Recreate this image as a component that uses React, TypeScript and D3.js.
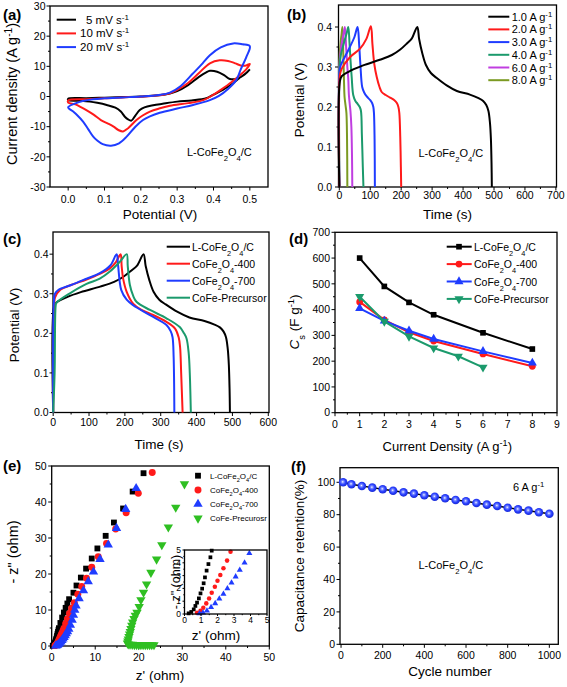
import React from "react";
import * as d3 from "d3";

type Pt = [number, number];

// ---------------- (a) CV data ----------------
const cvLabels = ["5 mV s^{-1}", "10 mV s^{-1}", "20 mV s^{-1}"];
const cv5: Pt[] = [[0,-0.7],[0.05,-0.55],[0.1,-0.4],[0.15,-0.2],[0.2,0.0],[0.25,0.4],[0.28,1.0],[0.3,1.8],[0.33,3.8],[0.36,6.5],[0.38,8.0],[0.39,8.5],[0.41,8.2],[0.43,7.0],[0.445,5.8],[0.465,5.9],[0.485,7.2],[0.5,9.0],[0.49,7.8],[0.47,6.0],[0.454,4.4],[0.43,2.5],[0.4,0.6],[0.38,-0.6],[0.34,-1.3],[0.3,-1.7],[0.26,-2.4],[0.234,-2.9],[0.21,-3.6],[0.197,-4.5],[0.185,-6.3],[0.174,-8.0],[0.165,-7.6],[0.156,-6.7],[0.145,-5.0],[0.13,-3.7],[0.106,-2.8],[0.08,-2.1],[0.06,-1.7],[0.03,-1.4],[0,-1.2]];
const cv10: Pt[] = [[0,-1.3],[0.05,-0.9],[0.1,-0.6],[0.15,-0.3],[0.2,-0.05],[0.25,0.4],[0.28,1.1],[0.3,2.2],[0.33,4.5],[0.36,7.8],[0.39,11.0],[0.417,12.0],[0.44,11.8],[0.46,11.0],[0.475,10.3],[0.49,10.3],[0.5,10.8],[0.49,9.0],[0.47,6.8],[0.45,4.8],[0.42,2.2],[0.4,0.6],[0.372,-1.2],[0.33,-2.2],[0.28,-3.1],[0.25,-4.0],[0.225,-5.0],[0.205,-6.3],[0.188,-7.8],[0.165,-10.5],[0.151,-11.6],[0.138,-11.1],[0.125,-10.0],[0.11,-9.0],[0.09,-7.8],[0.07,-6.0],[0.05,-4.5],[0.035,-3.5],[0.02,-2.6],[0,-2.0]];
const cv20: Pt[] = [[0,-3.6],[0.02,-2.3],[0.04,-1.5],[0.069,-0.9],[0.1,-0.6],[0.15,-0.3],[0.2,0],[0.25,0.5],[0.28,1.3],[0.31,3.5],[0.344,7.7],[0.37,11],[0.39,13.7],[0.42,16.3],[0.454,17.6],[0.48,17.3],[0.5,16.7],[0.49,13],[0.475,9],[0.463,5.5],[0.44,2.5],[0.415,0.2],[0.39,-1.2],[0.344,-2.8],[0.3,-4.0],[0.252,-5.4],[0.225,-6.6],[0.206,-7.8],[0.185,-10.0],[0.161,-13.3],[0.14,-15.5],[0.118,-16.3],[0.095,-15.8],[0.08,-14.6],[0.069,-13.3],[0.055,-10.8],[0.041,-8.3],[0.025,-6.2],[0.014,-5.0]];

// ---------------- (b) GCD at different current densities ----------------
const gcdLabels = ["1.0 A g^{-1}", "2.0 A g^{-1}", "3.0 A g^{-1}", "4.0 A g^{-1}", "6.0 A g^{-1}", "8.0 A g^{-1}"];
const gcd1: Pt[] = [[0,0],[2,0.265],[8,0.277],[40,0.292],[77,0.304],[131,0.318],[170,0.33],[196,0.343],[220,0.36],[234,0.371],[252,0.4],[258,0.37],[268,0.335],[280,0.305],[296,0.285],[314,0.273],[347,0.254],[380,0.24],[422,0.231],[450,0.222],[465,0.215],[475,0.205],[482,0.19],[487,0.16],[490,0.12],[492,0.06],[493,0]];
const gcd2: Pt[] = [[0,0],[2,0.28],[8,0.296],[35,0.325],[67,0.346],[88,0.371],[102,0.402],[107,0.358],[113,0.308],[121,0.275],[130,0.25],[137,0.2375],[150,0.23],[164,0.2235],[178,0.217],[186,0.21],[191,0.2],[194,0.185],[197,0.125],[199,0.05],[200,0]];
const gcd3: Pt[] = [[0,0],[1,0.29],[5,0.305],[29,0.342],[49,0.375],[59,0.4],[64,0.358],[68,0.308],[74,0.25],[80,0.237],[88,0.227],[100,0.217],[106,0.21],[110,0.2],[112,0.185],[114,0.12],[115,0]];
const gcd4: Pt[] = [[0,0],[1,0.3],[5,0.33],[15,0.36],[24,0.385],[29,0.4],[33,0.36],[36,0.32],[40,0.275],[45,0.23],[52,0.215],[59,0.208],[66,0.2],[70,0.19],[73,0.13],[76,0.05],[78,0]];
const gcd6: Pt[] = [[0,0],[1,0.31],[6,0.35],[13,0.38],[18,0.4],[22,0.35],[26,0.3],[29,0.27],[31,0.23],[34,0.205],[36,0.19],[39,0.15],[41,0.08],[42,0]];
const gcd8: Pt[] = [[0,0],[0.5,0.32],[4,0.36],[7,0.38],[10,0.4],[13,0.33],[15,0.27],[17,0.225],[20,0.205],[23,0.185],[25,0.12],[26,0]];

// ---------------- (c) GCD of different samples ----------------
const sampleLabels = ["L-CoFe_{2}O_{4}/C", "CoFe_{2}O_{4}-400", "CoFe_{2}O_{4}-700", "CoFe-Precursor"];
const gcdS400: Pt[] = [[0,0],[3,0.27],[5,0.29],[20,0.31],[50,0.322],[93,0.336],[130,0.35],[158,0.364],[175,0.38],[188,0.4],[191,0.37],[195,0.339],[205,0.305],[223,0.275],[245,0.26],[270,0.25],[316,0.229],[340,0.212],[350,0.19],[354,0.165],[357,0.1],[361,0]];
const gcdS700: Pt[] = [[0,0],[2,0.28],[5,0.3],[15,0.31],[50,0.322],[93,0.338],[130,0.352],[160,0.372],[177,0.4],[181,0.372],[190,0.309],[205,0.285],[223,0.271],[270,0.246],[316,0.221],[328,0.205],[333,0.19],[336,0.14],[338,0]];
const gcdSPre: Pt[] = [[0,0],[4,0.1],[7,0.27],[9,0.277],[50,0.303],[93,0.325],[130,0.338],[158,0.356],[186,0.381],[205,0.4],[208,0.37],[214,0.322],[223,0.295],[233,0.279],[270,0.259],[316,0.238],[353,0.216],[365,0.2],[372,0.187],[378,0.15],[381,0.1],[384,0]];

// ---------------- (d) specific capacitance ----------------
const cdX = [1, 2, 3, 4, 6, 8];
const cdL = [600, 490, 428, 380, 310, 247];
const cd400 = [430, 360, 312, 278, 228, 180];
const cd700 = [405, 356, 318, 286, 238, 193];
const cdPreX = [1, 2, 3, 4, 5, 6];
const cdPre = [450, 354, 296, 251, 219, 176];

// ---------------- (e) Nyquist ----------------
const eisLabels = ["L-CoFe_{2}O_{4}/C", "CoFe_{2}O_{4}-400", "CoFe_{2}O_{4}-700", "CoFe-Precurosr"];
const eisL: Pt[] = [[0.25,0.05],[0.41,0.16],[0.56,0.36],[0.66,0.63],[0.76,0.89],[0.87,1.22],[0.97,1.61],[1.07,1.98],[1.16,2.4],[1.24,2.86],[1.34,3.39],[1.45,3.9],[1.57,4.43],[1.65,4.95],[2.0,6.4],[2.4,7.9],[2.8,9.3],[3.2,10.6],[3.6,11.8],[4.0,13.0],[5.0,14.8],[5.7,16.8],[6.7,19.0],[7.9,21.5],[9.2,24.3],[10.5,27.1],[12.4,30.6],[14.3,34.3],[16.4,38.2],[18.6,42.9],[21.1,48.0]];
const eis400: Pt[] = [[0.76,0.1],[0.97,0.26],[1.14,0.49],[1.32,0.83],[1.49,1.22],[1.65,1.66],[1.84,2.13],[2.0,2.6],[2.17,3.05],[2.36,3.57],[2.58,4.17],[2.79,4.87],[3.2,6.2],[3.6,7.5],[4.1,9.0],[4.6,10.5],[5.2,12.0],[6.0,14.4],[6.9,16.5],[8.0,18.8],[9.2,21.9],[10.7,24.8],[12.6,28.5],[14.7,32.5],[17.1,37.0],[19.9,42.4],[23.1,48.2]];
const eis700: Pt[] = [[0.91,0.03],[1.12,0.1],[1.36,0.26],[1.61,0.52],[1.86,0.83],[2.11,1.2],[2.36,1.56],[2.6,2.0],[2.85,2.45],[3.1,2.92],[3.35,3.44],[3.64,4.0],[3.93,4.74],[4.3,5.8],[4.7,7.2],[5.0,8.6],[5.3,10.0],[5.6,11.2],[6.3,13.2],[7.3,15.4],[8.4,17.9],[9.6,20.6],[11.1,24.1],[13.0,28.1],[14.9,32.7],[17.0,38.0],[19.4,43.8]];
const eisPre: Pt[] = [[23.5,0.3],[23.0,0.3],[22.5,0.3],[22.0,0.3],[21.5,0.3],[21.0,0.3],[20.5,0.3],[20.0,0.3],[19.5,0.35],[19.0,0.35],[18.5,0.4],[18.0,0.45],[17.6,0.5],[17.4,0.8],[17.5,1.3],[17.6,1.9],[17.75,2.6],[17.9,3.3],[18.05,4.0],[18.2,4.8],[18.4,5.7],[18.6,6.6],[18.9,7.6],[19.2,8.5],[19.6,9.3],[20.1,10.9],[20.5,12.8],[21.1,14.9],[21.8,17.2],[22.8,20.4],[24.1,24.1],[25.3,28.1],[26.8,33.0],[28.5,38.5],[30.5,45.0]];

// ---------------- (f) cycling ----------------
const cycX = [10,50,100,150,200,250,300,350,400,450,500,550,600,650,700,750,800,850,900,950,1000];
const cycRet = [100,98.8,97.7,96.7,95.7,94.8,93.8,93.0,92.0,91.1,90.1,89.1,88.3,87.2,86.2,85.4,84.3,83.3,82.5,81.5,80.6];

// ---------------- tick arrays ----------------
const aXT = [0,0.1,0.2,0.3,0.4,0.5], aXM = [0.05,0.15,0.25,0.35,0.45];
const aYT = [-30,-20,-10,0,10,20,30], aYM = [-25,-15,-5,5,15,25];
const bXT = [0,100,200,300,400,500,600,700], bXM = [50,150,250,350,450,550,650];
const vYT = [0,0.1,0.2,0.3,0.4], vYM = [0.05,0.15,0.25,0.35];
const cXT = [0,100,200,300,400,500,600], cXM = [50,150,250,350,450,550];
const dXT = [0,1,2,3,4,5,6,7,8,9], dXM = [0.5,1.5,2.5,3.5,4.5,5.5,6.5,7.5,8.5];
const dYT = [0,100,200,300,400,500,600,700], dYM = [50,150,250,350,450,550,650];
const eT = [0,10,20,30,40,50], eM = [5,15,25,35,45];
const eiT = [0,1,2,3,4,5], eiM = [0.5,1.5,2.5,3.5,4.5];
const fXT = [0,200,400,600,800,1000], fXM = [100,300,500,700,900];
const fYT = [0,20,40,60,80,100], fYM = [10,30,50,70,90];

const FONT = "'Liberation Sans', Arial, Helvetica, sans-serif";
const BLACK = "#000000", RED = "#ff1a1a", BLUE = "#1f3cff", TEAL = "#1b9a6c", PURPLE = "#c03ee0", OLIVE = "#7b9a22", GREEN = "#2fbf22";

type Box = { l: number; r: number; t: number; b: number };

function rich(s: string) {
  const out: any[] = [];
  const re = /([_^])\{([^}]*)\}/g;
  let i = 0, k = 0, m: any;
  while ((m = re.exec(s))) {
    if (m.index > i) out.push(<tspan key={k++}>{s.slice(i, m.index)}</tspan>);
    out.push(<tspan key={k++} baselineShift={m[1] === "_" ? "sub" : "super"} fontSize="70%">{m[2]}</tspan>);
    i = re.lastIndex;
  }
  if (i < s.length) out.push(<tspan key={k++}>{s.slice(i)}</tspan>);
  return out;
}

function Axes(p: { box: Box; xs: any; ys: any; xT: number[]; xM: number[]; yT: number[]; yM: number[]; fx: (v: number) => string; fy: (v: number) => string; fs?: number; xOff: number; yOff: number; tick?: number; minor?: number }) {
  const { box, xs, ys, xT, xM, yT, yM, fx, fy, xOff, yOff } = p;
  const fs = p.fs ?? 10.5, tk = p.tick ?? 3.5, mn = p.minor ?? 2;
  return (
    <g>
      <rect x={box.l} y={box.t} width={box.r - box.l} height={box.b - box.t} fill="none" stroke="#000" strokeWidth={1.3} />
      {xT.map((v) => <line key={"xt" + v} x1={xs(v)} x2={xs(v)} y1={box.b} y2={box.b + tk} stroke="#000" strokeWidth={1} />)}
      {xM.map((v) => <line key={"xm" + v} x1={xs(v)} x2={xs(v)} y1={box.b} y2={box.b + mn} stroke="#000" strokeWidth={1} />)}
      {yT.map((v) => <line key={"yt" + v} x1={box.l - tk} x2={box.l} y1={ys(v)} y2={ys(v)} stroke="#000" strokeWidth={1} />)}
      {yM.map((v) => <line key={"ym" + v} x1={box.l - mn} x2={box.l} y1={ys(v)} y2={ys(v)} stroke="#000" strokeWidth={1} />)}
      {xT.map((v) => <text key={"xl" + v} x={xs(v)} y={box.b + xOff} fontSize={fs} textAnchor="middle">{fx(v)}</text>)}
      {yT.map((v) => <text key={"yl" + v} x={box.l - yOff} y={ys(v)} dy="0.36em" fontSize={fs} textAnchor="end">{fy(v)}</text>)}
    </g>
  );
}

const cr = d3.curveCatmullRom.alpha(0.5);
const crc = d3.curveCatmullRomClosed.alpha(0.5);
function path(xs: any, ys: any, pts: Pt[], curve: any = cr) {
  return d3.line<Pt>().x((d) => xs(d[0])).y((d) => ys(d[1])).curve(curve)(pts) || "";
}
const f1 = d3.format(".1f");
const f0 = (v: number) => String(v);

const symSq = (s: number) => d3.symbol().type(d3.symbolSquare).size(s)() || "";
const symCi = (s: number) => d3.symbol().type(d3.symbolCircle).size(s)() || "";
const symTr = (s: number) => d3.symbol().type(d3.symbolTriangle).size(s)() || "";

function Marker({ kind, x, y, size, color }: { kind: number; x: number; y: number; size: number; color: string }) {
  if (kind === 0) return <path d={symSq(size)} transform={`translate(${x},${y})`} fill={color} />;
  if (kind === 1) return <path d={symCi(size)} transform={`translate(${x},${y})`} fill={color} />;
  if (kind === 2) return <path d={symTr(size)} transform={`translate(${x},${y})`} fill={color} />;
  return <path d={symTr(size)} transform={`translate(${x},${y}) rotate(180)`} fill={color} />;
}

export default function App() {
  // boxes
  const A: Box = { l: 50, r: 268, t: 6, b: 187 };
  const B: Box = { l: 338.5, r: 556.5, t: 5, b: 187 };
  const C: Box = { l: 53, r: 269, t: 232, b: 412.5 };
  const D: Box = { l: 335, r: 557, t: 232.3, b: 412.7 };
  const E: Box = { l: 51.7, r: 269.3, t: 466, b: 646 };
  const EI: Box = { l: 184.5, r: 267, t: 550, b: 614 };
  const F: Box = { l: 340, r: 558.3, t: 467.7, b: 644.3 };

  const xa = d3.scaleLinear([-0.05, 0.55], [A.l, A.r]), ya = d3.scaleLinear([-30, 30], [A.b, A.t]);
  const xb = d3.scaleLinear([-2.6, 702], [B.l, B.r]), yb = d3.scaleLinear([0, 0.455], [B.b, B.t]);
  const xc = d3.scaleLinear([-0.5, 602], [C.l, C.r]), yc = d3.scaleLinear([0, 0.456], [C.b, C.t]);
  const xd = d3.scaleLinear([0, 9], [D.l, D.r]), yd = d3.scaleLinear([0, 700], [D.b, D.t]);
  const xe = d3.scaleLinear([0, 50], [E.l, E.r]), ye = d3.scaleLinear([0, 50], [E.b, E.t]);
  const xei = d3.scaleLinear([0, 5], [EI.l, EI.r]), yei = d3.scaleLinear([0, 5], [EI.b, EI.t]);
  const xf = d3.scaleLinear([-5, 1043], [F.l, F.r]), yf = d3.scaleLinear([0, 109], [F.b, F.t]);

  const cvSeries = [cv5, cv10, cv20];
  const cvColors = [BLACK, RED, BLUE];
  const gcdSeries = [gcd1, gcd2, gcd3, gcd4, gcd6, gcd8];
  const gcdColors = [BLACK, RED, BLUE, TEAL, PURPLE, OLIVE];
  const sSeries = [gcd1, gcdS400, gcdS700, gcdSPre];
  const sColors = [BLACK, RED, BLUE, TEAL];
  const dSeries: [number[], number[]][] = [[cdX, cdL], [cdX, cd400], [cdX, cd700], [cdPreX, cdPre]];
  const eSeries = [eisL, eis400, eis700, eisPre];
  const eColors = [BLACK, RED, BLUE, GREEN];
  const inInset = (d: Pt) => d[0] <= 5.05 && d[1] <= 5.05;

  const ylab = (x: number, y: number, fs: number, content: any) => (
    <text transform={`translate(${x},${y}) rotate(-90)`} textAnchor="middle" fontSize={fs}>{content}</text>
  );
  const panelTag = (x: number, y: number, s: string) => <text x={x} y={y} fontSize={15} fontWeight="bold">{s}</text>;

  return (
    <svg width={567} height={687} style={{ position: "absolute", left: 0, top: 0, background: "#fff" }} fontFamily={FONT}>
      <defs>
        <radialGradient id="ball" cx="45%" cy="45%" r="60%">
          <stop offset="0%" stopColor="#ffffff" />
          <stop offset="22%" stopColor="#8090ff" />
          <stop offset="55%" stopColor="#2a40ff" />
          <stop offset="100%" stopColor="#1526cc" />
        </radialGradient>
      </defs>

      {/* ---------- (a) ---------- */}
      {panelTag(3, 20, "(a)")}
      <Axes box={A} xs={xa} ys={ya} xT={aXT} xM={aXM} yT={aYT} yM={aYM} fx={f1} fy={f0} xOff={16} yOff={4.5} />
      {cvSeries.map((s, i) => <path key={i} d={path(xa, ya, s, crc)} fill="none" stroke={cvColors[i]} strokeWidth={2} />)}
      {cvLabels.map((l, i) => (
        <g key={i}>
          <line x1={56.7} x2={76} y1={19.7 + i * 13.7} y2={19.7 + i * 13.7} stroke={cvColors[i]} strokeWidth={2} />
          <text x={i === 0 ? 86 : 80} y={19.7 + i * 13.7 + 4} fontSize={11.5}>{rich(l)}</text>
        </g>
      ))}
      <text x={187} y={156} fontSize={11}>{rich("L-CoFe_{2}O_{4}/C")}</text>
      {ylab(17, 94, 14.5, rich("Current density (A g^{-1})"))}
      <text x={160} y={219} fontSize={13.5} textAnchor="middle">Potential (V)</text>

      {/* ---------- (b) ---------- */}
      {panelTag(287, 20, "(b)")}
      <Axes box={B} xs={xb} ys={yb} xT={bXT} xM={bXM} yT={vYT} yM={vYM} fx={f0} fy={f1} xOff={11.5} yOff={6.5} />
      {gcdSeries.map((s, i) => <path key={i} d={path(xb, yb, s)} fill="none" stroke={gcdColors[i]} strokeWidth={2} />).reverse()}
      {gcdLabels.map((l, i) => (
        <g key={i}>
          <line x1={488.3} x2={509.3} y1={16.7 + i * 12.7} y2={16.7 + i * 12.7} stroke={gcdColors[i]} strokeWidth={2} />
          <text x={511.7} y={16.7 + i * 12.7 + 4} fontSize={11}>{rich(l)}</text>
        </g>
      ))}
      <text x={418.5} y={157} fontSize={11}>{rich("L-CoFe_{2}O_{4}/C")}</text>
      {ylab(304, 100, 13.5, "Potential (V)")}
      <text x={447.5} y={219} fontSize={13.5} textAnchor="middle">Time (s)</text>

      {/* ---------- (c) ---------- */}
      {panelTag(3, 244, "(c)")}
      <Axes box={C} xs={xc} ys={yc} xT={cXT} xM={cXM} yT={vYT} yM={vYM} fx={f0} fy={f1} xOff={13} yOff={4.5} />
      {sSeries.map((s, i) => <path key={i} d={path(xc, yc, s)} fill="none" stroke={sColors[i]} strokeWidth={2} />)}
      {sampleLabels.map((l, i) => (
        <g key={i}>
          <line x1={166.7} x2={190} y1={246.7 + i * 17} y2={246.7 + i * 17} stroke={sColors[i]} strokeWidth={2} />
          <text x={192} y={246.7 + i * 17 + 4} fontSize={10.5}>{rich(l)}</text>
        </g>
      ))}
      {ylab(19, 325, 13.5, "Potential (V)")}
      <text x={159} y={449} fontSize={13.5} textAnchor="middle">Time (s)</text>

      {/* ---------- (d) ---------- */}
      {panelTag(289, 244, "(d)")}
      <Axes box={D} xs={xd} ys={yd} xT={dXT} xM={dXM} yT={dYT} yM={dYM} fx={f0} fy={f0} xOff={15} yOff={5} />
      {dSeries.map(([xv, yv], i) => {
        const pts: Pt[] = xv.map((x, j) => [x, yv[j]]);
        return (
          <g key={i}>
            <path d={d3.line<Pt>().x((d) => xd(d[0])).y((d) => yd(d[1]))(pts) || ""} fill="none" stroke={sColors[i]} strokeWidth={2} />
            {pts.map((d, j) => <Marker key={j} kind={i} x={xd(d[0])} y={yd(d[1])} size={i === 0 ? 32 : 36} color={sColors[i]} />)}
          </g>
        );
      })}
      {sampleLabels.map((l, i) => (
        <g key={i}>
          <line x1={446.7} x2={471.7} y1={246.7 + i * 17.4} y2={246.7 + i * 17.4} stroke={sColors[i]} strokeWidth={2} />
          <Marker kind={i} x={459} y={246.7 + i * 17.4} size={i === 0 ? 32 : 36} color={sColors[i]} />
          <text x={474} y={246.7 + i * 17.4 + 4} fontSize={10.5}>{rich(l)}</text>
        </g>
      ))}
      <text transform="translate(299,322) rotate(-90)" textAnchor="middle" fontSize={13.5}>
        <tspan fontStyle="italic">C</tspan>
        <tspan baselineShift="sub" fontSize="70%">s</tspan>
        <tspan> (F g</tspan>
        <tspan baselineShift="super" fontSize="70%">-1</tspan>
        <tspan>)</tspan>
      </text>
      <text x={447.3} y={451} fontSize={13} textAnchor="middle">{rich("Current Density (A g^{-1})")}</text>

      {/* ---------- (e) ---------- */}
      {panelTag(3, 471, "(e)")}
      <Axes box={E} xs={xe} ys={ye} xT={eT} xM={eM} yT={eT} yM={eM} fx={f0} fy={f0} xOff={14.5} yOff={5} />
      {eSeries.map((s, i) => (
        <g key={i}>
          {s.map((d, j) => <Marker key={j} kind={i} x={xe(d[0])} y={ye(d[1])} size={i === 0 ? 34 : 38} color={eColors[i]} />)}
        </g>
      ))}
      {eisLabels.map((l, i) => (
        <g key={i}>
          <Marker kind={i} x={198} y={475.7 + i * 14.2} size={i === 0 ? 34 : 38} color={eColors[i]} />
          <text x={210} y={475.7 + i * 14.2 + 3} fontSize={8}>{rich(l)}</text>
        </g>
      ))}
      {ylab(18, 552, 14.5, "- z\" (ohm)")}
      <text x={160} y={680} fontSize={13.5} textAnchor="middle">z' (ohm)</text>
      {/* inset */}
      <rect x={EI.l} y={EI.t} width={EI.r - EI.l} height={EI.b - EI.t} fill="#fff" />
      {eSeries.slice(0, 3).map((s, i) => (
        <g key={i}>
          {s.filter(inInset).map((d, j) => <Marker key={j} kind={i} x={xei(d[0])} y={yei(d[1])} size={i === 0 ? 14 : 16} color={eColors[i]} />)}
        </g>
      ))}
      <Axes box={EI} xs={xei} ys={yei} xT={eiT} xM={eiM} yT={eiT} yM={eiM} fx={f0} fy={f0} fs={8.5} xOff={8.5} yOff={3.5} tick={2} minor={1.2} />
      {ylab(180, 582, 12.5, "- z\" (ohm)")}
      <text x={216} y={640} fontSize={13.5} textAnchor="middle">z' (ohm)</text>

      {/* ---------- (f) ---------- */}
      {panelTag(291, 472, "(f)")}
      <Axes box={F} xs={xf} ys={yf} xT={fXT} xM={fXM} yT={fYT} yM={fYM} fx={f0} fy={f0} xOff={14.5} yOff={5} />
      <path d={d3.line<number>().x((d) => xf(d)).y((d, i) => yf(cycRet[i]))(cycX) || ""} fill="none" stroke="#000" strokeWidth={1.5} />
      {cycX.map((c, i) => <circle key={i} cx={xf(c)} cy={yf(cycRet[i])} r={4.3} fill="url(#ball)" />)}
      <text x={513} y={491} fontSize={11}>{rich("6 A g^{-1}")}</text>
      <text x={418.5} y={569} fontSize={11}>{rich("L-CoFe_{2}O_{4}/C")}</text>
      {ylab(304, 556, 13.5, "Capacitance retention(%)")}
      <text x={450} y={676} fontSize={13.5} textAnchor="middle">Cycle number</text>
    </svg>
  );
}
